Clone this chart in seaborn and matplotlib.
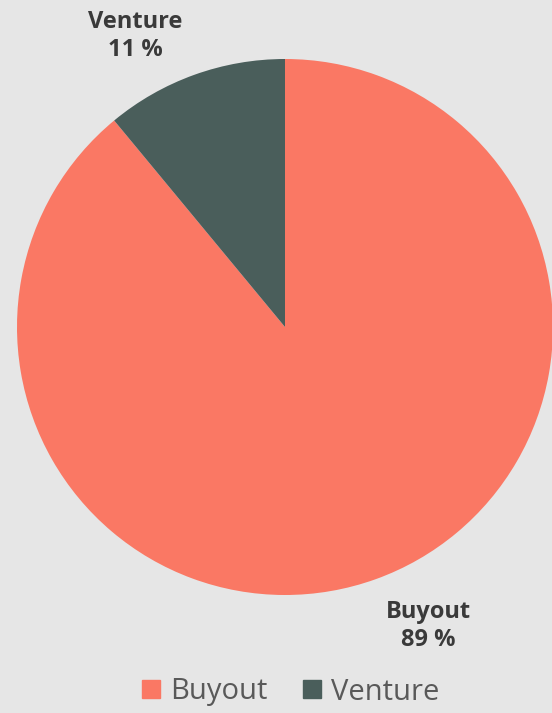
import matplotlib
matplotlib.use("Agg")
import matplotlib.pyplot as plt
import seaborn as sns
import numpy as np

# data
categories = ["Buyout", "Venture"]
shares = [89, 11]
colors = ["#fa7864", "#4a5e5b"]
# label anchor offsets (fraction of radius), styling only
label_pos = [(0.535, -1.115), (-0.56, 1.085)]

sns.set_theme(style="white")
plt.rcParams['font.family'] = ['Open Sans', 'DejaVu Sans']

bg = "#e6e6e6"
fig = plt.figure(figsize=(5.52, 7.13), dpi=100, facecolor=bg)
ax = fig.add_axes([0, 0, 1, 1])
ax.set_facecolor(bg)

wedges, _ = ax.pie(shares, colors=colors, startangle=90, counterclock=False,
                   radius=1.0, wedgeprops=dict(linewidth=0))

for (x, y), cat, val in zip(label_pos, categories, shares):
    ax.text(x, y, f"{cat}\n{val} %", ha="center", va="center", fontsize=17,
            fontweight="bold", color="#3a3a3a", linespacing=1.25)

# map pixels: center (285, 327), radius 268 px
r = 268
ax.set_xlim(-285 / r, (552 - 285) / r)
ax.set_ylim((327 - 713) / r, 327 / r)
ax.set_aspect("auto")
ax.axis("off")

handles = [plt.Line2D([], [], marker="s", linestyle="", markersize=13, color=c) for c in colors]
fig.legend(handles, categories, loc="center", bbox_to_anchor=(0.523, 1 - 692 / 713),
           ncol=2, frameon=False, fontsize=21, labelcolor="#595959",
           handletextpad=0.2, columnspacing=1.1, handlelength=0.9)

fig.savefig("out.png", dpi=100, facecolor=bg)
